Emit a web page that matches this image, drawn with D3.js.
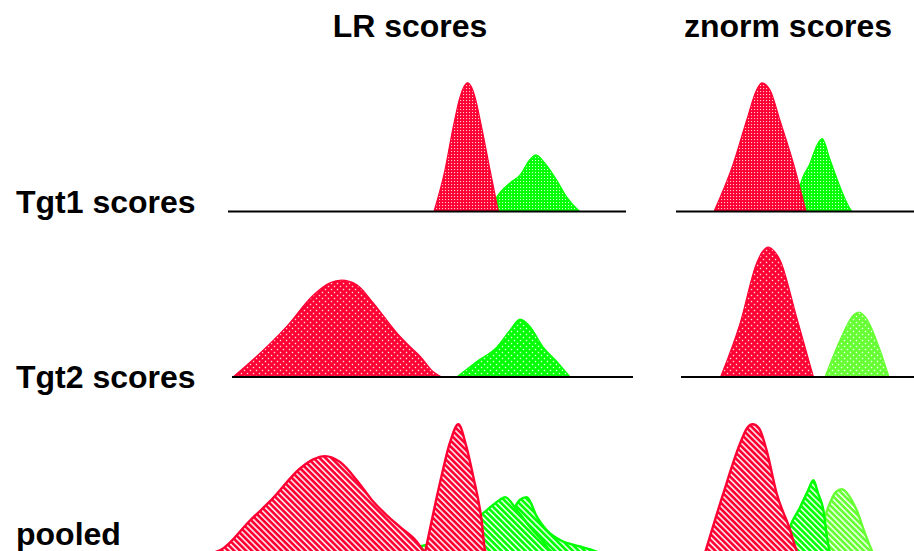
<!DOCTYPE html>
<html>
<head>
<meta charset="utf-8">
<script src="https://cdn.jsdelivr.net/npm/d3@7"></script>
<style>
  html, body { margin: 0; padding: 0; background: #fff; }
  svg { display: block; }
  text { font-family: "Liberation Sans", Arial, Helvetica, sans-serif; font-weight: bold; fill: #000; }
</style>
</head>
<body>
<script>
// Column and row titles
const columnTitles = ["LR scores", "znorm scores"];
const rowTitles = ["Tgt1 scores", "Tgt2 scores", "pooled"];

// Score densities as [score, density] pairs (non-target = red, target = green)
// LR column, Tgt1
const lrTgt1NonTarget = [[0.10,0],[0.375,0.32],[0.58,0.65],[0.75,0.88],[0.84,0.955],[0.94,0.99],[1.04,0.955],[1.125,0.88],[1.29,0.65],[1.5,0.32],[1.71,0]];
const lrTgt1Target = [[1.5,0],[1.65,0.10],[2.0,0.22],[2.25,0.28],[2.5,0.40],[2.65,0.435],[2.875,0.37],[3.17,0.24],[3.42,0.11],[3.71,0.01],[3.75,0]];
// LR column, Tgt2
const lrTgt2NonTarget = [[-4.92,0],[-4.33,0.16],[-3.58,0.39],[-2.92,0.63],[-2.5,0.725],[-2.21,0.745],[-1.83,0.71],[-1.42,0.57],[-0.83,0.34],[-0.42,0.21],[-0.25,0.16],[0.08,0.04],[0.29,0]];
const lrTgt2Target = [[0.67,0],[1.17,0.12],[1.67,0.23],[2.0,0.36],[2.25,0.445],[2.5,0.39],[2.83,0.23],[3.17,0.12],[3.5,0]];
// LR column, pooled
const lrPoolNonTarget2 = [[-5.45,0],[-5.25,0.02],[-4.5,0.25],[-3.96,0.41],[-3.25,0.65],[-2.92,0.72],[-2.625,0.745],[-2.25,0.70],[-1.83,0.56],[-1.46,0.41],[-1.08,0.29],[-0.75,0.20],[-0.33,0.087],[-0.175,0.02],[-0.1,0]];
const lrPoolNonTarget1 = [[-0.125,0],[0.25,0.54],[0.5,0.85],[0.71,0.99],[0.9,0.83],[1.08,0.59],[1.29,0.25],[1.375,0.02],[1.4,0]];
const lrPoolTarget1 = [[-0.625,0],[-0.25,0.05],[0.25,0.087],[0.83,0.18],[1.42,0.33],[1.75,0.41],[1.875,0.43],[2.17,0.33],[2.5,0.20],[2.83,0.087],[3.0,0.02],[3.125,0]];
const lrPoolTarget2 = [[-0.125,0],[0.375,0.05],[1.0,0.10],[1.625,0.20],[2.0,0.29],[2.25,0.41],[2.42,0.43],[2.67,0.28],[3.0,0.15],[3.25,0.10],[3.75,0.05],[4.125,0.015],[4.25,0]];

// znorm column, Tgt1
const znTgt1NonTarget = [[-2.025,0],[-1.54,0.37],[-1.21,0.70],[-0.96,0.935],[-0.83,0.99],[-0.625,0.935],[-0.375,0.70],[-0.04,0.37],[0.275,0]];
const znTgt1Target = [[0.05,0],[0.125,0.19],[0.375,0.37],[0.55,0.51],[0.68,0.56],[0.875,0.40],[1.125,0.19],[1.4,0.01],[1.425,0]];
// znorm column, Tgt2
const znTgt2NonTarget = [[-1.86,0],[-1.375,0.41],[-0.96,0.875],[-0.825,0.96],[-0.67,1.0],[-0.525,0.97],[-0.375,0.90],[0.04,0.46],[0.46,0]];
const znTgt2Target = [[0.75,0],[1.125,0.285],[1.46,0.477],[1.6,0.50],[1.79,0.45],[2.125,0.21],[2.35,0]];
// znorm column, pooled
const znPoolNonTarget = [[-2.25,0],[-1.79,0.46],[-1.375,0.84],[-1.2,0.96],[-1.06,0.99],[-0.9,0.96],[-0.71,0.79],[-0.46,0.46],[-0.125,0.18],[0.04,0.02],[0.075,0]];
const znPoolTarget1 = [[-0.3,0],[-0.125,0.20],[0.125,0.35],[0.325,0.48],[0.46,0.56],[0.575,0.46],[0.71,0.33],[0.8,0.12],[0.875,0]];
const znPoolTarget2 = [[0.575,0],[0.71,0.23],[0.875,0.385],[1.025,0.47],[1.17,0.49],[1.3,0.46],[1.54,0.33],[1.75,0.15],[1.92,0.02],[1.95,0]];

// Score axis extents per panel [from, to]
const lrAxisExtents = [[-5.05, 4.9], [-4.95, 5.075]];
const znAxisExtents = [[-2.975, 3.0], [-2.85, 3.0]];

const W = 914, H = 551;
const RED = "#ff0033", GREEN = "#00ff00", LIGHTGREEN = "#66ff33";

const svg = d3.select("body").append("svg").attr("width", W).attr("height", H);
const defs = svg.append("defs");

// Fill patterns: dense dots (row 1), sparse dots (row 2), diagonal hatch (pooled)
function densePattern(id, color) {
  const p = defs.append("pattern").attr("id", id).attr("patternUnits", "userSpaceOnUse")
    .attr("width", 3).attr("height", 3);
  p.append("rect").attr("width", 3).attr("height", 3).attr("fill", color);
  p.append("rect").attr("x", 1).attr("y", 1).attr("width", 1.1).attr("height", 1.1)
    .attr("fill", "#fff").attr("opacity", 0.8);
}
function sparsePattern(id, color) {
  const p = defs.append("pattern").attr("id", id).attr("patternUnits", "userSpaceOnUse")
    .attr("width", 6).attr("height", 6);
  p.append("rect").attr("width", 6).attr("height", 6).attr("fill", color);
  p.append("rect").attr("x", 0.8).attr("y", 0.8).attr("width", 1.4).attr("height", 1.4)
    .attr("fill", "#fff").attr("opacity", 0.85);
  p.append("rect").attr("x", 3.8).attr("y", 3.8).attr("width", 1.4).attr("height", 1.4)
    .attr("fill", "#fff").attr("opacity", 0.85);
}
function hatchPattern(id, color) {
  const p = defs.append("pattern").attr("id", id).attr("patternUnits", "userSpaceOnUse")
    .attr("width", 4.2).attr("height", 4.2).attr("patternTransform", "rotate(-45)");
  p.append("rect").attr("width", 4.2).attr("height", 4.2).attr("fill", color);
  p.append("rect").attr("x", 0).attr("y", 0).attr("width", 1.6).attr("height", 4.2)
    .attr("fill", "#fff").attr("opacity", 0.9);
}
densePattern("dRed", RED); densePattern("dGreen", GREEN);
sparsePattern("sRed", RED); sparsePattern("sGreen", GREEN); sparsePattern("sLight", LIGHTGREEN);
hatchPattern("hRed", RED); hatchPattern("hGreen", GREEN); hatchPattern("hLight", LIGHTGREEN);

// Horizontal score scales for each column
const xLR = d3.scaleLinear().domain([-5, 5]).range([230, 630]);
const xZN = d3.scaleLinear().domain([-3, 3]).range([675, 915]);

// Row baselines and density scales
const baselines = [211.5, 377, 553];
const yRows = baselines.map(b => d3.scaleLinear().domain([0, 1]).range([b, b - 130]));

// Panels: curves are listed in drawing order (targets underneath)
const panels = [
  { x: xLR, row: 0, curves: [[lrTgt1Target, "dGreen", GREEN], [lrTgt1NonTarget, "dRed", RED]], axis: lrAxisExtents[0], sw: 1.2 },
  { x: xZN, row: 0, curves: [[znTgt1Target, "dGreen", GREEN], [znTgt1NonTarget, "dRed", RED]], axis: znAxisExtents[0], sw: 1.2 },
  { x: xLR, row: 1, curves: [[lrTgt2Target, "sGreen", GREEN], [lrTgt2NonTarget, "sRed", RED]], axis: lrAxisExtents[1], sw: 1.2 },
  { x: xZN, row: 1, curves: [[znTgt2Target, "sLight", LIGHTGREEN], [znTgt2NonTarget, "sRed", RED]], axis: znAxisExtents[1], sw: 1.2 },
  { x: xLR, row: 2, curves: [[lrPoolTarget2, "hGreen", GREEN], [lrPoolTarget1, "hGreen", GREEN], [lrPoolNonTarget2, "hRed", RED], [lrPoolNonTarget1, "hRed", RED]], axis: null, sw: 2.4 },
  { x: xZN, row: 2, curves: [[znPoolTarget2, "hLight", LIGHTGREEN], [znPoolTarget1, "hGreen", GREEN], [znPoolNonTarget, "hRed", RED]], axis: null, sw: 2.4 }
];

panels.forEach(p => {
  const y = yRows[p.row];
  const area = d3.area()
    .x(d => p.x(d[0]))
    .y0(y(0))
    .y1(d => y(d[1]))
    .curve(d3.curveMonotoneX);
  const g = svg.append("g");
  p.curves.forEach(([data, pat, color]) => {
    g.append("path")
      .datum(data)
      .attr("d", area)
      .attr("fill", `url(#${pat})`)
      .attr("stroke", color)
      .attr("stroke-width", p.sw)
      .attr("stroke-linejoin", "round");
  });
  if (p.axis) {
    g.append("line")
      .attr("x1", p.x(p.axis[0])).attr("x2", p.x(p.axis[1]))
      .attr("y1", y(0)).attr("y2", y(0))
      .attr("stroke", "#000").attr("stroke-width", 2.2);
  }
});

// Titles
const titleX = [410, 788];
svg.selectAll("text.col").data(columnTitles).join("text")
  .attr("class", "col")
  .attr("x", (d, i) => titleX[i]).attr("y", 37)
  .attr("text-anchor", "middle")
  .style("font-size", "32px")
  .text(d => d);

const rowLabelY = [212.5, 388, 545];
svg.selectAll("text.row").data(rowTitles).join("text")
  .attr("class", "row")
  .attr("x", 16).attr("y", (d, i) => rowLabelY[i])
  .style("font-size", "32px")
  .text(d => d);
</script>
</body>
</html>
